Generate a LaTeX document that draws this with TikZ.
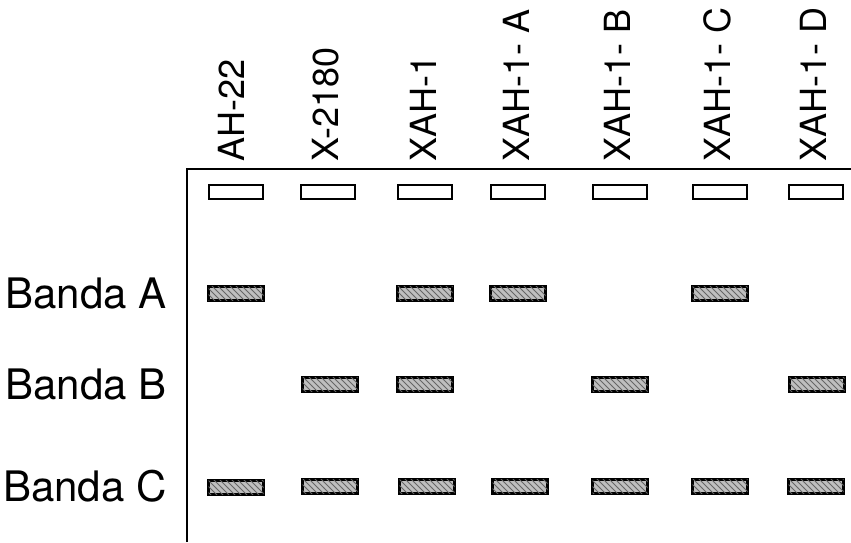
\documentclass[tikz,border=0pt]{standalone}
\usepackage{fontspec}
\setmainfont{TeX Gyre Heros}
\usepackage{tikz}
\usetikzlibrary{positioning,patterns}
\tikzset{
  well/.style={draw, rectangle, line width=1pt, fill=white, minimum width=27pt, minimum height=7pt, inner sep=0pt},
  band/.style={draw, rectangle, line width=1.5pt, fill=gray!50, minimum width=27.5pt, minimum height=7pt, inner sep=0pt,
    postaction={pattern=north west lines, pattern color=black!60}},
  lane/.style={rotate=90, anchor=west, inner sep=0pt, font=\fontsize{18}{20}\selectfont},
  bandlabel/.style={anchor=east, inner sep=0pt, font=\fontsize{21}{24}\selectfont},
  axis/.style={line width=1.1pt}
}
\begin{document}
\begin{tikzpicture}[x=0.5pt, y=-0.5pt]
    \useasboundingbox (0,0) rectangle (851,542);

    % frame of the gel
    \coordinate (corner) at (187,169);
    \coordinate (right) at (851,169);
    \coordinate (bottom) at (187,542);
    \draw[axis] (bottom) -- (corner) -- (right);

    % lanes
    \node[well] (w1) at (236,192) {};
    \node[well] (w2) at (328,192) {};
    \node[well] (w3) at (425,192) {};
    \node[well] (w4) at (518,192) {};
    \node[well] (w5) at (620,192) {};
    \node[well] (w6) at (720,192) {};
    \node[well] (w7) at (816,192) {};

    \node[lane] (l1) at (231,162) {AH-22};
    \node[lane] (l2) at (326,162) {X-2180};
    \node[lane] (l3) at (423,162) {XAH-1};
    \node[lane] (l4) at (516,162) {XAH-1- A};
    \node[lane] (l5) at (617,162) {XAH-1- B};
    \node[lane] (l6) at (717,162) {XAH-1- C};
    \node[lane] (l7) at (813,162) {XAH-1- D};

    % band labels
    \node[bandlabel] (ba) at (167,293) {Banda A};
    \node[bandlabel] (bb) at (167,384) {Banda B};
    \node[bandlabel] (bc) at (167,486) {Banda C};

    % banda A
    \node[band] (a1) at (236,293) {};
    \node[band] (a3) at (425,293) {};
    \node[band] (a4) at (518,293) {};
    \node[band] (a6) at (720,293) {};

    % banda B
    \node[band] (b2) at (330,384) {};
    \node[band] (b3) at (425,384) {};
    \node[band] (b5) at (620,384) {};
    \node[band] (b7) at (817,384) {};

    % banda C
    \node[band] (c1) at (236,487) {};
    \node[band] (c2) at (330,486) {};
    \node[band] (c3) at (427,486) {};
    \node[band] (c4) at (520,486) {};
    \node[band] (c5) at (620,486) {};
    \node[band] (c6) at (720,486) {};
    \node[band] (c7) at (816,486) {};
\end{tikzpicture}
\end{document}
